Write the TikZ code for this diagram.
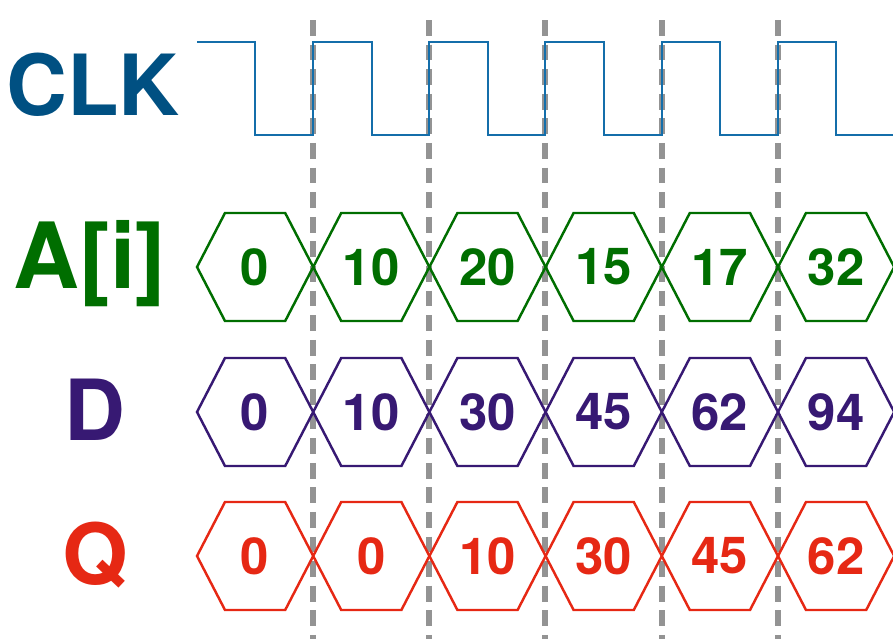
\documentclass[tikz,border=0pt]{standalone}
\usepackage{fontspec}
\setmainfont{TeX Gyre Heros}
\usetikzlibrary{positioning}
\definecolor{clkblue}{RGB}{0,80,130}
\definecolor{clkline}{RGB}{20,110,170}
\definecolor{agreen}{RGB}{0,110,0}
\definecolor{dpurple}{RGB}{55,25,115}
\definecolor{qred}{RGB}{230,40,20}

\tikzset{
  siglabel/.style={font=\fontsize{48}{50}\selectfont\bfseries, anchor=center},
  value/.style={font=\fontsize{29}{30}\selectfont\bfseries, anchor=center},
  edge/.style={gray!85, line width=3pt, dash pattern=on 9pt off 5pt},
}

\begin{document}
\begin{tikzpicture}[x=0.02cm, y=-0.02cm]
    \useasboundingbox (0,0) rectangle (893,639);

    % signal names
    \node[siglabel, text=clkblue] (clk) at (93,85) {CLK};
    \node[siglabel, text=agreen, font=\fontsize{52}{54}\selectfont\bfseries] (a) at (90,264) {A[i]};
    \node[siglabel, text=dpurple] (d) at (95,410) {D};
    \node[siglabel, text=qred] (q) at (95,555) {Q};

    % clock edges
    \foreach \x in {313,429,545,662,778}
        \draw[edge] (\x,20) -- (\x,639);

    % clock waveform
    \draw[clkline, line width=1.6pt] (197,42) -- (255,42) -- (255,135)
        \foreach \r/\f in {313/372,429/488,545/604,662/720,778/836}
            { -- (\r,135) -- (\r,42) -- (\f,42) -- (\f,135) } -- (895,135);

    % bus values
    \foreach \row/\y/\col/\vals in {a/267/agreen/{0,10,20,15,17,32},
                                    d/412/dpurple/{0,10,30,45,62,94},
                                    q/556/qred/{0,0,10,30,45,62}} {
        \foreach \v [count=\i from 0] in \vals {
            \pgfmathsetmacro{\xl}{197+116.2*\i}
            \pgfmathsetmacro{\xr}{\xl+116.2}
            \draw[\col, line width=1.4pt] (\xl,\y) -- (\xl+28,\y-54) -- (\xr-28,\y-54)
                -- (\xr,\y) -- (\xr-28,\y+54) -- (\xl+28,\y+54) -- cycle;
            \node[value, text=\col] (\row\i) at ({(\xl+\xr)/2},\y) {\v};
        }
    }
\end{tikzpicture}
\end{document}
